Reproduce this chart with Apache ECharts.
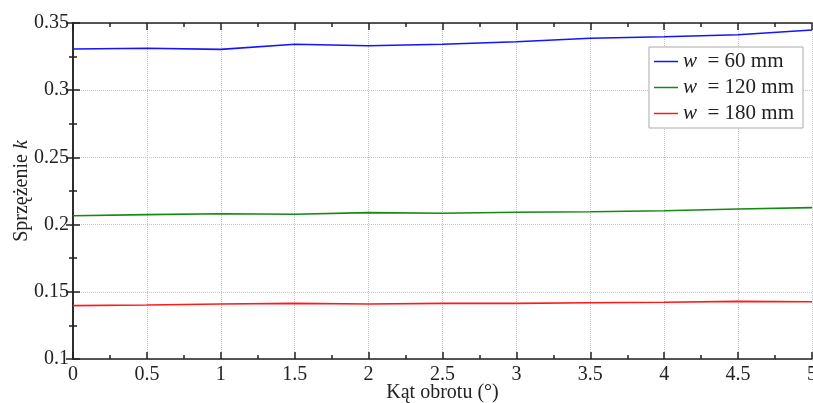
<!DOCTYPE html>
<html>
<head>
<meta charset="utf-8">
<script src="https://cdn.jsdelivr.net/npm/echarts@6/dist/echarts.min.js"></script>
<style>
  html, body { margin: 0; padding: 0; background: #fff; }
  #box { width: 813px; height: 403px; }
</style>
</head>
<body>
<div id="box"></div>
<script>
// kąt obrotu (°)
var katy = [0, 0.5, 1, 1.5, 2, 2.5, 3, 3.5, 4, 4.5, 5];
// sprzężenie k dla trzech szerokości w
var k60 = [0.3307, 0.3312, 0.3304, 0.3342, 0.3331, 0.3342, 0.3361, 0.3386, 0.3398, 0.3413, 0.3448];
var k120 = [0.2066, 0.2074, 0.2081, 0.2077, 0.2089, 0.2085, 0.2092, 0.2096, 0.2103, 0.2116, 0.2126];
var k180 = [0.1397, 0.1402, 0.1409, 0.1414, 0.1409, 0.1414, 0.1414, 0.1419, 0.1422, 0.1429, 0.1426];
var nazwy = ['w = 60 mm', 'w = 120 mm', 'w = 180 mm'];
var kolory = ['#1414ff', '#138a13', '#ff1a1a'];

function pary(ys) {
  return katy.map(function (x, i) { return [x, ys[i]]; });
}

var font = 'Liberation Serif';
var chart = echarts.init(document.getElementById('box'));

var osX = {
  type: 'value', min: 0, max: 5, interval: 0.5,
  axisLine: { show: true, lineStyle: { color: '#222', width: 1.5 } },
  axisTick: { show: true, inside: true, length: 7, lineStyle: { color: '#222', width: 1.5 } },
  minorTick: { show: true, splitNumber: 2, length: 4, lineStyle: { color: '#222', width: 1.5 } },
  splitLine: { show: true, lineStyle: { color: '#c4c4c4', type: 'dotted', width: 1 } }
};
var osY = {
  type: 'value', min: 0.1, max: 0.35, interval: 0.05,
  axisLine: { show: true, lineStyle: { color: '#222', width: 1.5 } },
  axisTick: { show: true, inside: true, length: 7, lineStyle: { color: '#222', width: 1.5 } },
  minorTick: { show: true, splitNumber: 2, length: 4, lineStyle: { color: '#222', width: 1.5 } },
  splitLine: { show: true, lineStyle: { color: '#c4c4c4', type: 'dotted', width: 1 } }
};

var option = {
  animation: false,
  backgroundColor: '#fff',
  textStyle: { fontFamily: font },
  grid: { left: 73, right: 1, top: 23, bottom: 44, containLabel: false, outerBoundsMode: 'none' },
  legend: {
    data: nazwy,
    orient: 'vertical',
    right: 10, top: 47,
    backgroundColor: '#fff',
    borderColor: '#aaa', borderWidth: 1,
    padding: [4, 9, 4, 5],
    itemWidth: 24, itemHeight: 12, itemGap: 5,
    icon: 'path://M0,0 L24,0 L24,1.5 L0,1.5 Z',
    formatter: function (n) { return '{i|w}  ' + n.slice(2); },
    textStyle: {
      fontFamily: font, fontSize: 21, color: '#222', lineHeight: 21,
      rich: { i: { fontFamily: font, fontSize: 21, fontStyle: 'italic', color: '#222', lineHeight: 21 } }
    }
  },
  xAxis: [
    Object.assign({}, osX, {
      position: 'bottom',
      name: 'Kąt obrotu (°)', nameLocation: 'middle', nameGap: 24, nameMoveOverlap: false,
      nameTextStyle: { fontFamily: font, fontSize: 20, color: '#222' },
      axisLabel: { fontFamily: font, fontSize: 20, color: '#222', margin: 6 }
    }),
    Object.assign({}, osX, {
      position: 'top', axisLabel: { show: false }, splitLine: { show: false }
    })
  ],
  yAxis: [
    Object.assign({}, osY, {
      position: 'left',
      name: 'Sprzężenie {k|k}', nameLocation: 'middle', nameGap: 41, nameMoveOverlap: false,
      nameTextStyle: {
        fontFamily: font, fontSize: 20, color: '#222',
        rich: { k: { fontFamily: font, fontSize: 20, fontStyle: 'italic', color: '#222' } }
      },
      axisLabel: { fontFamily: font, fontSize: 20, color: '#222', margin: 4 }
    }),
    Object.assign({}, osY, {
      position: 'right', axisLabel: { show: false }, splitLine: { show: false }
    })
  ],
  series: [k60, k120, k180].map(function (ys, i) {
    return {
      name: nazwy[i], type: 'line', data: pary(ys),
      xAxisIndex: 0, yAxisIndex: 0,
      showSymbol: false, symbol: 'none',
      lineStyle: { color: kolory[i], width: 1.6 },
      itemStyle: { color: kolory[i] }
    };
  })
};

chart.setOption(option);
</script>
</body>
</html>
